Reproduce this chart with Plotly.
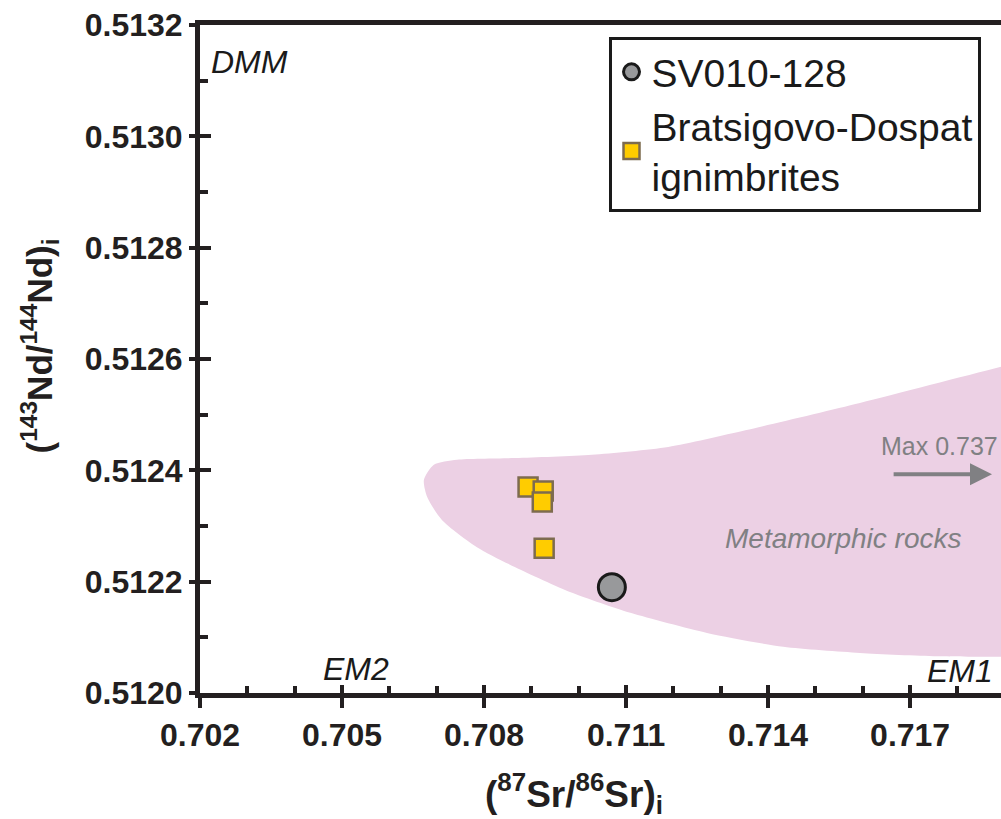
import plotly.graph_objects as go

# ---- data ----
sv_x = [0.71070]
sv_y = [0.51219]

bd_x = [0.70893, 0.70925, 0.70923, 0.70927]
bd_y = [0.51237, 0.512363, 0.512343, 0.512260]

# Metamorphic rocks field outline
region_x = [0.7220, 0.71892, 0.71594, 0.71352, 0.71189, 0.71028, 0.70866, 0.70743,
            0.70694, 0.70673, 0.70680, 0.70711, 0.70785, 0.70866, 0.70986, 0.71109,
            0.71271, 0.71432, 0.71594, 0.71757, 0.71892, 0.7220]
region_y = [0.512652, 0.512586, 0.512521, 0.512472, 0.512442, 0.512428, 0.512422, 0.512419,
            0.512410, 0.512383, 0.512352, 0.512311, 0.512262, 0.512226, 0.512180, 0.512144,
            0.512108, 0.512083, 0.512072, 0.512066, 0.512065, 0.512064]

x_range = [0.702, 0.71892]
y_range = [0.5120, 0.5132]
x_ticks = [0.702, 0.705, 0.708, 0.711, 0.714, 0.717]
x_ticklabels = ["0.702", "0.705", "0.708", "0.711", "0.714", "0.717"]
y_ticks = [0.5120, 0.5122, 0.5124, 0.5126, 0.5128, 0.5130, 0.5132]
y_ticklabels = ["0.5120", "0.5122", "0.5124", "0.5126", "0.5128", "0.5130", "0.5132"]

SANS = "Liberation Sans, Arial, sans-serif"
AX = "#231f20"
PINK = "#ecd0e4"
GRAY_TXT = "#808083"

fig = go.Figure()

fig.add_trace(go.Scatter(
    x=region_x, y=region_y, mode="lines", fill="toself", fillcolor=PINK,
    line=dict(width=0, shape="spline", smoothing=0.7, color=PINK),
    showlegend=False, hoverinfo="skip"))

fig.add_trace(go.Scatter(
    x=sv_x, y=sv_y, mode="markers", name="SV010-128",
    marker=dict(symbol="circle", size=27, color="#98999b",
                line=dict(color="#1a1a1a", width=3))))

fig.add_trace(go.Scatter(
    x=bd_x, y=bd_y, mode="markers", name="Bratsigovo-Dospat<br>ignimbrites",
    marker=dict(symbol="square", size=19, color="#ffcc00",
                line=dict(color="#7d6b4f", width=2.5))))

# invisible trace for the overlay (inside-tick) axes
fig.add_trace(go.Scatter(x=[None], y=[None], xaxis="x2", yaxis="y2",
                         showlegend=False, hoverinfo="skip"))

tickfont = dict(family=SANS, size=32, color=AX, weight="bold")

fig.update_layout(
    width=1001, height=819,
    margin=dict(l=200, r=0, t=25, b=126),
    paper_bgcolor="white", plot_bgcolor="white",
    showlegend=True,
    legend=dict(x=0.51, y=0.982, xanchor="left", yanchor="top",
                bgcolor="white", bordercolor="#1a1a1a", borderwidth=3,
                font=dict(family=SANS, size=39, color="#1a1a1a"),
                itemsizing="trace", tracegroupgap=0, itemwidth=30),
    xaxis=dict(range=x_range, tickvals=x_ticks, ticktext=x_ticklabels,
               ticks="outside", ticklen=10, tickwidth=4, tickcolor=AX,
               showline=True, linewidth=5, linecolor=AX, mirror=True,
               showgrid=False, zeroline=False, tickfont=tickfont),
    yaxis=dict(range=y_range, tickvals=y_ticks, ticktext=y_ticklabels,
               ticks="outside", ticklen=6, tickwidth=4, tickcolor=AX,
               showline=True, linewidth=5, linecolor=AX, mirror=False,
               showgrid=False, zeroline=False, tickfont=tickfont),
    xaxis2=dict(range=x_range, overlaying="x", anchor="y2", side="bottom",
                tickmode="linear", tick0=0.702, dtick=0.003,
                ticks="inside", ticklen=8, tickwidth=4, tickcolor=AX,
                showticklabels=False, showline=False, showgrid=False, zeroline=False,
                minor=dict(tickmode="linear", tick0=0.702, dtick=0.001, ticks="inside",
                           ticklen=7, tickwidth=4, tickcolor=AX)),
    yaxis2=dict(range=y_range, overlaying="y", anchor="x2", side="left",
                tickmode="linear", tick0=0.5120, dtick=0.0002,
                ticks="inside", ticklen=11, tickwidth=4, tickcolor=AX,
                showticklabels=False, showline=False, showgrid=False, zeroline=False,
                minor=dict(tickmode="linear", tick0=0.5120, dtick=0.0001, ticks="inside",
                           ticklen=8, tickwidth=4, tickcolor=AX)),
)

# axis titles
fig.add_annotation(text="(<sup>87</sup>Sr/<sup>86</sup>Sr)<sub>i</sub>",
                   xref="paper", yref="paper", x=0.467, y=-0.15,
                   xanchor="center", yanchor="middle", showarrow=False,
                   font=dict(family=SANS, size=37, color=AX, weight="bold"))
fig.add_annotation(text="(<sup>143</sup>Nd/<sup>144</sup>Nd)<sub>i</sub>",
                   xref="paper", yref="paper", x=-0.2, y=0.52,
                   xanchor="center", yanchor="middle", showarrow=False, textangle=-90,
                   font=dict(family=SANS, size=35, color=AX, weight="bold"))

# end-member labels
for txt, xx, yy in [("DMM", 0.70304, 0.513133), ("EM2", 0.70530, 0.512043),
                    ("EM1", 0.71806, 0.512040)]:
    fig.add_annotation(text=txt, x=xx, y=yy, xref="x", yref="y", showarrow=False,
                       xanchor="center", yanchor="middle",
                       font=dict(family=SANS, size=32, color="#1a1a1a", style="italic"))

fig.add_annotation(text="Metamorphic rocks", x=0.71559, y=0.512278, xref="x", yref="y",
                   showarrow=False, xanchor="center", yanchor="middle",
                   font=dict(family=SANS, size=28, color=GRAY_TXT, style="italic"))
fig.add_annotation(text="Max 0.737", x=0.71763, y=0.512444, xref="x", yref="y",
                   showarrow=False, xanchor="center", yanchor="middle",
                   font=dict(family=SANS, size=25, color=GRAY_TXT))
fig.add_annotation(x=0.71873, y=0.512393, ax=0.71662, ay=0.512393,
                   xref="x", yref="y", axref="x", ayref="y", text="",
                   showarrow=True, arrowhead=2, arrowsize=1.1, arrowwidth=4,
                   arrowcolor=GRAY_TXT)

fig.write_html("out.html", config={"displayModeBar": False},
               post_script="document.body.style.margin='0';")
